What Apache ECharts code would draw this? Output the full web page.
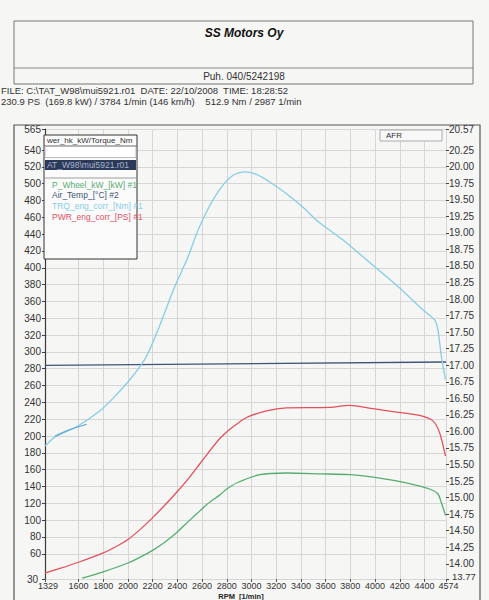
<!DOCTYPE html>
<html>
<head>
<meta charset="utf-8">
<script src="https://cdn.jsdelivr.net/npm/echarts@6/dist/echarts.min.js"></script>
<style>
    html, body { margin: 0; padding: 0; background: #f6f6f4; }
    #chart { width: 489px; height: 600px; }
</style>
</head>
<body>
<div id="chart"></div>
<script>
// dyno sheet, values
var trqRpm = [1329, 1410, 1585, 1774, 1881, 2010, 2100, 2151, 2200, 2259, 2380, 2487, 2568, 2663, 2757, 2851, 2946, 3040, 3148, 3283, 3417, 3538, 3741, 3983, 4199, 4387, 4482, 4509, 4536, 4570];
var trqNm = [188, 199, 211, 230, 245, 266, 283, 295, 311, 332, 378, 413, 445, 474, 496, 510, 514, 511, 502, 488, 472, 455, 433, 403, 376, 350, 338, 326, 295, 267];

var pwrRpm = [1329, 1450, 1612, 1800, 1909, 2000, 2100, 2200, 2300, 2400, 2488, 2582, 2650, 2744, 2825, 2879, 2960, 3121, 3283, 3633, 3795, 3983, 4172, 4360, 4468, 4522, 4570];
var pwrPs = [37, 42.5, 50.5, 61, 69, 77, 89, 103, 118, 134, 149, 167, 180, 197, 208, 214, 222, 230, 233.5, 234, 236.5, 232.5, 228.5, 224.5, 218, 204, 176];

var wheelRpm = [1630, 1800, 2000, 2100, 2200, 2300, 2400, 2501, 2582, 2650, 2744, 2800, 2892, 3067, 3283, 3552, 3795, 4037, 4253, 4441, 4509, 4536, 4570];
var wheelKw = [31, 38.5, 49, 56, 64, 74, 86, 100, 111, 120, 130, 137, 145, 154, 156, 155, 154, 150, 144.3, 137, 131, 121, 105.6];

var airRpm = [1329, 4574];
var airTemp = [284, 288];

var run2Rpm = [1410, 1500, 1666];
var run2Nm = [200, 206, 214];

var xTicks = [1329, 1600, 1800, 2000, 2200, 2400, 2600, 2800, 3000, 3200, 3400, 3600, 3800, 4000, 4200, 4400, 4574];
var leftTicks = [30, 60, 80, 100, 120, 140, 160, 180, 200, 220, 240, 260, 280, 300, 320, 340, 360, 380, 400, 420, 440, 460, 480, 500, 520, 540, 565];
var afrTicks = [13.77, 14.00, 14.25, 14.50, 14.75, 15.00, 15.25, 15.50, 15.75, 16.00, 16.25, 16.50, 16.75, 17.00, 17.25, 17.50, 17.75, 18.00, 18.25, 18.50, 18.75, 19.00, 19.25, 19.50, 19.75, 20.00, 20.25, 20.57];
var afrMin = 13.77;

function pairs(xs, ys) {
    var out = [];
    for (var i = 0; i < xs.length; i++) out.push([xs[i], ys[i]]);
    return out;
}

var green = '#55ad72', airBlue = '#3f5378', lightBlue = '#86cde6', red = '#e2505e';
var font = 'Liberation Sans, Arial, sans-serif';

var chart = echarts.init(document.getElementById('chart'), null, { renderer: 'svg' });

var options = {
    backgroundColor: '#f6f6f4',
    animation: false,
    textStyle: { fontFamily: font },
    grid: { left: 45, right: 43, top: 129, bottom: 21 },
    legend: {
        orient: 'vertical',
        left: 42,
        top: 175,
        itemWidth: 0,
        itemHeight: 8,
        itemGap: 1.8,
        icon: 'rect',
        z: 20,
        data: [
            { name: 'P_Wheel_kW_[kW] #1', textStyle: { color: green } },
            { name: 'Air_Temp_[°C] #2', textStyle: { color: airBlue } },
            { name: 'TRQ_eng_corr_[Nm] #1', textStyle: { color: lightBlue } },
            { name: 'PWR_eng_corr_[PS] #1', textStyle: { color: red } }
        ],
        textStyle: { fontSize: 8.5, fontFamily: font }
    },
    xAxis: {
        type: 'value',
        min: 1329,
        max: 4574,
        axisLine: { show: false },
        axisTick: { show: true, customValues: xTicks, length: 3, lineStyle: { color: '#555' } },
        axisLabel: {
            customValues: xTicks, fontSize: 9, color: '#333', margin: 2,
            showMinLabel: true, showMaxLabel: true, hideOverlap: false,
            formatter: function (v) {
                if (v === 1329) return '{first|1329}';
                if (v === 4574) return '{last|4574}';
                return String(v);
            },
            rich: {
                first: { fontSize: 9, color: '#333', padding: [0, 0, 0, 6] },
                last: { fontSize: 9, color: '#333', padding: [0, 0, 0, 5] }
            }
        },
        splitLine: { show: true, lineStyle: { color: '#d6d6d6', width: 1 } }
    },
    yAxis: [{
        type: 'value',
        position: 'left',
        min: 30,
        max: 565,
        axisLine: { show: true, lineStyle: { color: '#3a3a3a', width: 1.2 } },
        axisTick: { show: true, customValues: leftTicks, length: 3, lineStyle: { color: '#444' } },
        axisLabel: {
            customValues: leftTicks, fontSize: 10, color: '#333', margin: 4,
            showMinLabel: true, showMaxLabel: true, hideOverlap: false,
            formatter: function (v) {
                if (v === 30) return '{low|30}';
                return String(v);
            },
            rich: { low: { fontSize: 10, color: '#333', padding: [0, 3, 0, 0] } }
        },
        splitLine: { show: true, lineStyle: { color: '#d6d6d6', width: 1 } }
    }, {
        type: 'value',
        position: 'right',
        min: 13.77,
        max: 20.57,
        axisLine: { show: false },
        axisTick: { show: true, customValues: afrTicks, length: 3, lineStyle: { color: '#444' } },
        axisLabel: {
            customValues: afrTicks, fontSize: 10, color: '#333', margin: 3,
            showMinLabel: true, showMaxLabel: true, hideOverlap: false,
            // the bottom value is written a little above its tick, as on the sheet
            formatter: function (v) { return v === afrMin ? '' : v.toFixed(2); }
        },
        splitLine: { show: false }
    }],
    series: [{
        name: 'Air_Temp_[°C] #2',
        type: 'line',
        data: pairs(airRpm, airTemp),
        symbol: 'none',
        lineStyle: { color: airBlue, width: 1.3 },
        itemStyle: { color: airBlue }
    }, {
        name: 'TRQ_eng_corr_[Nm] #1',
        type: 'line',
        data: pairs(trqRpm, trqNm),
        symbol: 'none',
        smooth: 0.25,
        lineStyle: { color: lightBlue, width: 1.3 },
        itemStyle: { color: lightBlue }
    }, {
        name: 'TRQ run 2',
        type: 'line',
        data: pairs(run2Rpm, run2Nm),
        symbol: 'none',
        smooth: 0.25,
        lineStyle: { color: '#5aa6cf', width: 1.1 }
    }, {
        name: 'PWR_eng_corr_[PS] #1',
        type: 'line',
        data: pairs(pwrRpm, pwrPs),
        symbol: 'none',
        smooth: 0.25,
        lineStyle: { color: red, width: 1.3 },
        itemStyle: { color: red }
    }, {
        name: 'P_Wheel_kW_[kW] #1',
        type: 'line',
        data: pairs(wheelRpm, wheelKw),
        symbol: 'none',
        smooth: 0.25,
        lineStyle: { color: green, width: 1.3 },
        itemStyle: { color: green }
    }],
    graphic: [
        // header box
        { type: 'rect', z: 10, shape: { x: 14, y: 21, width: 459, height: 63 }, style: { fill: 'none', stroke: '#777', lineWidth: 1 } },
        { type: 'line', z: 10, shape: { x1: 14, y1: 68, x2: 473, y2: 68 }, style: { stroke: '#888', lineWidth: 1 } },
        { type: 'text', z: 10, style: { text: 'SS Motors Oy', x: 244, y: 33, textAlign: 'center', textVerticalAlign: 'middle', font: 'italic bold 12px ' + font, fill: '#111' } },
        { type: 'text', z: 10, style: { text: 'Puh. 040/5242198', x: 244, y: 76.5, textAlign: 'center', textVerticalAlign: 'middle', font: '10px ' + font, fill: '#333' } },
        { type: 'text', z: 10, style: { text: 'FILE: C:\\TAT_W98\\mui5921.r01  DATE: 22/10/2008  TIME: 18:28:52', x: 1, y: 90, textVerticalAlign: 'middle', font: '9.5px ' + font, fill: '#333' } },
        { type: 'text', z: 10, style: { text: '230.9 PS  (169.8 kW) / 3784 1/min (146 km/h)    512.9 Nm / 2987 1/min', x: 1, y: 101, textVerticalAlign: 'middle', font: '9.5px ' + font, fill: '#333' } },
        // chart frame
        { type: 'rect', z: 10, shape: { x: 14, y: 125, width: 466, height: 490 }, style: { fill: 'none', stroke: '#555', lineWidth: 1.2 } },
        // legend box
        { type: 'rect', z: 11, shape: { x: 44, y: 135, width: 93, height: 124 }, style: { fill: '#fbfbfb', stroke: '#333', lineWidth: 1 } },
        { type: 'text', z: 12, style: { text: 'wer_hk_kW/Torque_Nm', x: 47, y: 140.5, textVerticalAlign: 'middle', font: '8px ' + font, fill: '#333' } },
        { type: 'line', z: 12, shape: { x1: 44, y1: 146, x2: 137, y2: 146 }, style: { stroke: '#666', lineWidth: 1 } },
        { type: 'rect', z: 12, shape: { x: 45, y: 146.5, width: 91, height: 11 }, style: { fill: '#fff', stroke: '#aaa', lineWidth: 0.8 } },
        { type: 'rect', z: 12, shape: { x: 45, y: 160, width: 91, height: 10 }, style: { fill: '#2c3a5a' } },
        { type: 'text', z: 13, style: { text: 'AT_W98\\mui5921.r01', x: 47, y: 165, textVerticalAlign: 'middle', font: '8.5px ' + font, fill: '#aab4cc' } },
        { type: 'line', z: 12, shape: { x1: 45, y1: 178, x2: 136, y2: 178 }, style: { stroke: '#888', lineWidth: 0.8 } },
        // AFR box
        { type: 'rect', z: 10, shape: { x: 380, y: 130, width: 62, height: 11 }, style: { fill: '#f8f8f8', stroke: '#999', lineWidth: 0.8 } },
        { type: 'text', z: 11, style: { text: 'AFR', x: 386, y: 135.5, textVerticalAlign: 'middle', font: '8px ' + font, fill: '#333' } },
        // bottom AFR value, raised above its tick
        { type: 'text', z: 10, style: { text: afrMin.toFixed(2), x: 452, y: 576.5, textVerticalAlign: 'middle', font: '9.5px ' + font, fill: '#333' } },
        // x axis name
        { type: 'text', z: 10, style: { text: 'RPM  [1/min]', x: 241, y: 596.5, textAlign: 'center', textVerticalAlign: 'middle', font: 'bold 7.5px ' + font, fill: '#222' } }
    ]
};

chart.setOption(options);
</script>
</body>
</html>
